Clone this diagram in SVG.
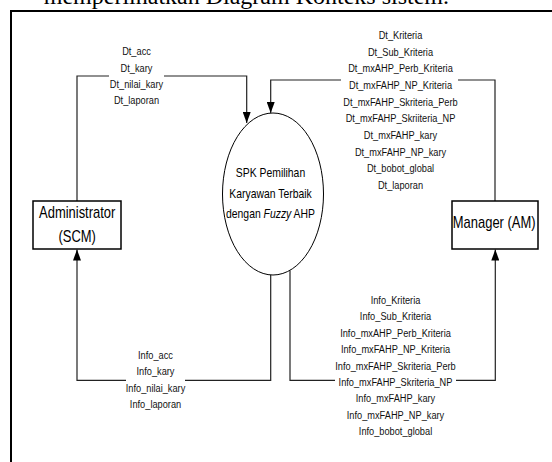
<svg xmlns="http://www.w3.org/2000/svg" width="552" height="462" viewBox="0 0 552 462">
<defs>
<style>
.lbl{font-family:"Liberation Sans",Arial,sans-serif;font-size:11px;fill:#111;text-anchor:middle}
.nodet{font-family:"Liberation Sans",Arial,sans-serif;font-size:16px;fill:#000;text-anchor:middle}
.proct{font-family:"Liberation Sans",Arial,sans-serif;font-size:13px;fill:#000;text-anchor:middle}
.box{fill:#fff;stroke:#000;stroke-width:1.5}
.conn{fill:none;stroke:#222;stroke-width:1.2}
.gap{fill:#fff;stroke:none}
</style>
<marker id="arr" markerUnits="userSpaceOnUse" markerWidth="11" markerHeight="8" refX="11" refY="4" orient="auto" viewBox="0 0 11 8">
<path d="M0,0 L11,4 L0,8 z" fill="#000"/>
</marker>
</defs>
<rect width="552" height="462" fill="#fff"/>
<text x="449" y="4" font-family="'Liberation Serif','Times New Roman',serif" font-size="24" text-anchor="end" fill="#000">memperlihatkan Diagram Konteks sistem.</text>
<path d="M552,11 H11 V462" fill="none" stroke="#000" stroke-width="2"/>

<g id="connectors">
<path class="conn" d="M77,201 V76 H246.7 V123" marker-end="url(#arr)"/>
<path class="conn" d="M495,201 V80 H270.7 V113" marker-end="url(#arr)"/>
<path class="conn" d="M270.7,275 V380.3 H77 V249.5" marker-end="url(#arr)"/>
<path class="conn" d="M290,270.5 V380.3 H495.3 V249.5" marker-end="url(#arr)"/>
<rect class="gap" x="109" y="70" width="55" height="12"/>
<rect class="gap" x="341" y="74" width="117" height="12"/>
<rect class="gap" x="126" y="374" width="59" height="12"/>
<rect class="gap" x="335" y="374" width="121" height="12"/>
<g transform="translate(136.5,0) scale(0.84,1)">
<text class="lbl"><tspan x="0" y="55.5">Dt_acc</tspan><tspan x="0" y="71.8">Dt_kary</tspan><tspan x="0" y="88.1">Dt_nilai_kary</tspan><tspan x="0" y="104.4">Dt_laporan</tspan></text>
</g>
<g transform="translate(400.5,0) scale(0.84,1)">
<text class="lbl"><tspan x="0" y="39.2">Dt_Kriteria</tspan><tspan x="0" y="55.9">Dt_Sub_Kriteria</tspan><tspan x="0" y="72.5">Dt_mxAHP_Perb_Kriteria</tspan><tspan x="0" y="89.2">Dt_mxFAHP_NP_Kriteria</tspan><tspan x="0" y="105.8">Dt_mxFAHP_Skriteria_Perb</tspan><tspan x="0" y="122.5">Dt_mxFAHP_Skriiteria_NP</tspan><tspan x="0" y="139.1">Dt_mxFAHP_kary</tspan><tspan x="0" y="155.8">Dt_mxFAHP_NP_kary</tspan><tspan x="0" y="172.4">Dt_bobot_global</tspan><tspan x="0" y="189.1">Dt_laporan</tspan></text>
</g>
<g transform="translate(155.5,0) scale(0.84,1)">
<text class="lbl"><tspan x="0" y="359">Info_acc</tspan><tspan x="0" y="375.5">Info_kary</tspan><tspan x="0" y="392">Info_nilai_kary</tspan><tspan x="0" y="408.5">Info_laporan</tspan></text>
</g>
<g transform="translate(395.5,0) scale(0.84,1)">
<text class="lbl"><tspan x="0" y="304">Info_Kriteria</tspan><tspan x="0" y="320.4">Info_Sub_Kriteria</tspan><tspan x="0" y="336.8">Info_mxAHP_Perb_Kriteria</tspan><tspan x="0" y="353.2">Info_mxFAHP_NP_Kriteria</tspan><tspan x="0" y="369.6">Info_mxFAHP_Skriteria_Perb</tspan><tspan x="0" y="386">Info_mxFAHP_Skriteria_NP</tspan><tspan x="0" y="402.4">Info_mxFAHP_kary</tspan><tspan x="0" y="418.8">Info_mxFAHP_NP_kary</tspan><tspan x="0" y="435.2">Info_bobot_global</tspan></text>
</g>
</g>

<g id="administrator">
<rect class="box" x="33" y="201" width="88" height="48"/>
<g transform="translate(77.2,0) scale(0.81,1)">
<text class="nodet"><tspan x="0" y="218.3">Administrator</tspan><tspan x="0" y="242.3">(SCM)</tspan></text>
</g>
</g>

<g id="manager">
<rect class="box" x="452" y="201" width="86" height="48"/>
<g transform="translate(494.2,0) scale(0.81,1)">
<text class="nodet" x="0" y="228.3">Manager (AM)</text>
</g>
</g>

<g id="process">
<ellipse cx="273" cy="194" rx="50.5" ry="81" fill="#fff" stroke="#000" stroke-width="1"/>
<g transform="translate(270.5,0) scale(0.8,1)">
<text class="proct"><tspan x="0" y="177.3">SPK Pemilihan</tspan><tspan x="0" y="197.6">Karyawan Terbaik</tspan><tspan x="0" y="218.2">dengan <tspan font-style="italic">Fuzzy</tspan> AHP</tspan></text>
</g>
</g>
</svg>
